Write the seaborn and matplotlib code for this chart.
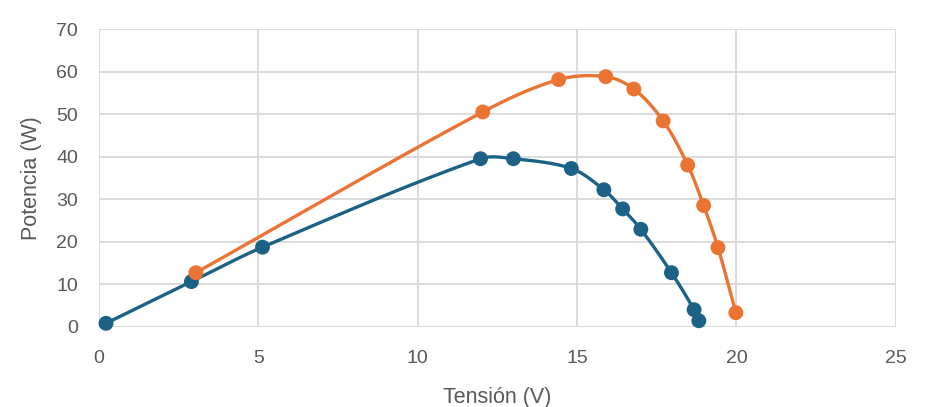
import numpy as np
import pandas as pd
import matplotlib
matplotlib.use("Agg")
import matplotlib.pyplot as plt
import seaborn as sns

# curve 1 (blue)
v_blue = [0.22, 2.9, 5.13, 11.97, 13.0, 14.82, 15.84, 16.43, 17.0, 17.96, 18.67, 18.82]
p_blue = [0.8, 10.6, 18.7, 39.5, 39.5, 37.2, 32.2, 27.7, 22.9, 12.7, 4.0, 1.4]

# curve 2 (orange)
v_orange = [3.04, 12.04, 14.42, 15.9, 16.78, 17.70, 18.47, 18.97, 19.42, 19.98]
p_orange = [12.7, 50.5, 58.1, 58.8, 55.9, 48.4, 38.0, 28.5, 18.6, 3.3]

x_ticks = [0, 5, 10, 15, 20, 25]
y_ticks = [0, 10, 20, 30, 40, 50, 60, 70]

BLUE = "#1B6286"
ORANGE = "#EB7433"
GREY = "#595959"


def smooth(xs, ys, sx=31.9, sy=4.24, n=30):
    # smoothed line through the points, tangents scaled by segment length
    # (done in screen-ish units so the aspect ratio doesn't distort it)
    pts = np.column_stack([np.asarray(xs, float) * sx, np.asarray(ys, float) * sy])
    out = []
    for i in range(len(pts) - 1):
        p1, p2 = pts[i], pts[i + 1]
        d12 = np.linalg.norm(p2 - p1)
        if i > 0:
            p0 = pts[i - 1]
            d01 = np.linalg.norm(p1 - p0)
            c1 = p1 + (p2 - p0) * d12 / (d01 + d12) / 3.0
        else:
            c1 = p1 + (p2 - p1) / 3.0
        if i + 2 < len(pts):
            p3 = pts[i + 2]
            d23 = np.linalg.norm(p3 - p2)
            c2 = p2 - (p3 - p1) * d12 / (d12 + d23) / 3.0
        else:
            c2 = p2 - (p2 - p1) / 3.0
        t = np.linspace(0, 1, n)[:, None]
        seg = ((1 - t) ** 3) * p1 + 3 * ((1 - t) ** 2) * t * c1 + 3 * (1 - t) * t ** 2 * c2 + t ** 3 * p2
        out.append(seg if i == 0 else seg[1:])
    seg = np.vstack(out)
    return seg[:, 0] / sx, seg[:, 1] / sy


sns.set_style("white")
plt.rcParams['font.family'] = ['Liberation Sans', 'DejaVu Sans']

fig = plt.figure(figsize=(9.32, 4.07), dpi=100)
ax = fig.add_axes([0.1062, 0.1973, 0.855, 0.7314])

for xs, ys, col in [(v_blue, p_blue, BLUE), (v_orange, p_orange, ORANGE)]:
    lx, ly = smooth(xs, ys)
    ax.plot(lx, ly, color=col, lw=2.4, zorder=3, solid_capstyle="round")
    df = pd.DataFrame({"v": xs, "p": ys})
    sns.scatterplot(data=df, x="v", y="p", ax=ax, color=col, s=115,
                    edgecolor="none", zorder=4, clip_on=False)

ax.set_xlim(0, 25)
ax.set_ylim(0, 70)
ax.set_xticks(x_ticks)
ax.set_yticks(y_ticks)
ax.grid(True, color="#D9D9D9", lw=1.3)
ax.set_axisbelow(True)
for s in ax.spines.values():
    s.set_visible(False)
ax.tick_params(axis="both", length=0, labelsize=14, colors=GREY)
ax.tick_params(axis="x", pad=17)
ax.tick_params(axis="y", pad=15)
ax.set_xlabel("Tensión (V)", fontsize=15.5, color=GREY, labelpad=14)
ax.set_ylabel("Potencia (W)", fontsize=15.5, color=GREY, labelpad=10)

fig.savefig("out.png", dpi=100)
